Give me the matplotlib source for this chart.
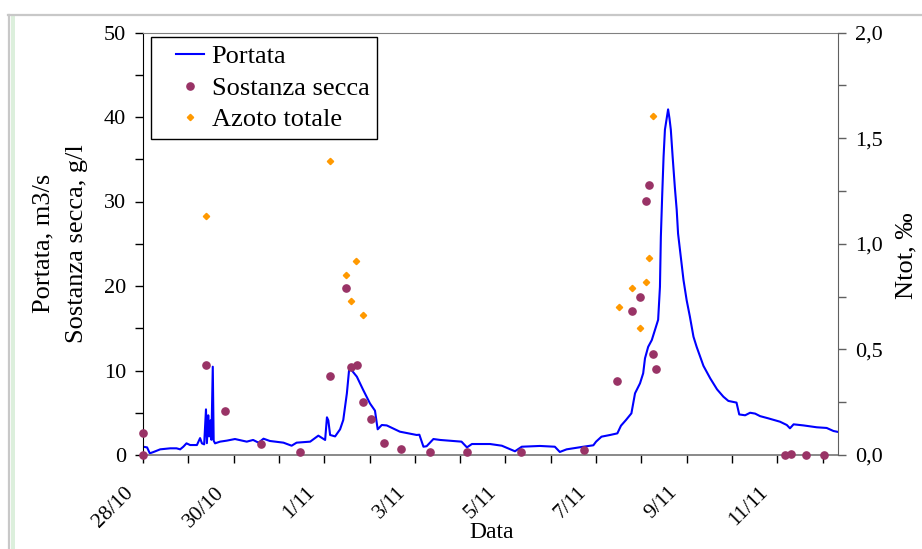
import matplotlib
matplotlib.use("Agg")
import matplotlib.pyplot as plt
import matplotlib.transforms as mtransforms
from matplotlib.ticker import MultipleLocator
from matplotlib.legend_handler import HandlerLine2D
from matplotlib.lines import Line2D
from matplotlib.patches import Rectangle

plt.rcParams['font.family'] = ['Liberation Serif', 'DejaVu Serif']

# --- dati (giorni dal 28/10 ore 0) ---
portata_giorni = [
    0.00, 0.09, 0.15, 0.23, 0.38, 0.60, 0.74, 0.82, 0.89, 0.96, 1.04, 1.19,
    1.26, 1.30, 1.35, 1.39, 1.41, 1.44, 1.46, 1.49, 1.51, 1.54, 1.56, 1.59,
    1.70, 1.85, 2.03, 2.29, 2.43, 2.55, 2.66, 2.80, 3.10, 3.28, 3.39, 3.69,
    3.87, 4.02, 4.06, 4.09, 4.13, 4.24, 4.35, 4.42, 4.50, 4.55, 4.61, 4.72,
    4.86, 5.01, 5.12, 5.18, 5.27, 5.38, 5.67, 6.04, 6.10, 6.19, 6.26, 6.41,
    6.56, 7.03, 7.15, 7.26, 7.66, 7.92, 8.21, 8.36, 8.76, 9.09, 9.20, 9.35,
    9.72, 9.94, 10.00, 10.12, 10.31, 10.47, 10.55, 10.66, 10.78, 10.86,
    10.97, 11.04, 11.08, 11.15, 11.23, 11.30, 11.37, 11.41, 11.43, 11.46,
    11.49, 11.52, 11.56, 11.59, 11.62, 11.65, 11.69, 11.74, 11.78, 11.81,
    11.87, 11.93, 12.00, 12.07, 12.15, 12.22, 12.37, 12.52, 12.67, 12.81,
    12.92, 13.10, 13.16, 13.29, 13.40, 13.51, 13.62, 13.80, 14.06, 14.21,
    14.28, 14.36, 14.58, 14.87, 15.09, 15.24, 15.35,
]
portata = [
    0.98, 0.90, 0.20, 0.35, 0.67, 0.79, 0.79, 0.67, 0.98, 1.38, 1.18, 1.18,
    2.00, 1.38, 1.26, 5.40, 1.40, 4.70, 2.20, 4.10, 1.80, 10.45, 1.70, 1.38,
    1.58, 1.70, 1.89, 1.58, 1.78, 1.46, 1.93, 1.66, 1.46, 1.10, 1.46, 1.58,
    2.29, 1.78, 4.46, 4.10, 2.37, 2.20, 3.04, 4.14, 7.30, 10.14, 10.00, 9.27,
    7.70, 6.10, 5.25, 3.04, 3.55, 3.50, 2.76, 2.37, 2.40, 0.98, 1.04, 1.89,
    1.78, 1.58, 0.90, 1.30, 1.30, 1.10, 0.44, 0.98, 1.07, 0.98, 0.36, 0.67,
    0.98, 1.15, 1.58, 2.17, 2.37, 2.56, 3.47, 4.14, 4.93, 7.30,
    8.48, 9.67, 11.44, 12.80, 13.60, 14.80, 16.00, 19.90, 25.80, 30.80,
    35.30, 38.50, 39.85, 40.90, 39.85, 38.50, 35.30, 31.60, 29.00, 26.20,
    23.50, 20.70, 18.30, 16.40, 14.00, 12.80, 10.55, 9.07, 7.77, 6.90,
    6.40, 6.20, 4.80, 4.70, 5.00, 4.90, 4.60, 4.34, 3.94, 3.55,
    3.16, 3.63, 3.50, 3.28, 3.20, 2.84, 2.72,
]

ss_giorni = [0.00, 0.00, 1.39, 1.82, 2.60, 3.47, 4.12, 4.48, 4.60, 4.72, 4.86,
             5.03, 5.33, 5.70, 6.34, 7.15, 8.34, 9.74, 10.47, 10.80, 10.97,
             11.10, 11.16, 11.26, 11.33, 14.16, 14.31, 14.64, 15.02]
ss_valori = [2.64, 0.00, 10.65, 5.20, 1.34, 0.30, 9.40, 19.80, 10.40, 10.65, 6.30,
             4.30, 1.42, 0.75, 0.40, 0.30, 0.30, 0.55, 8.70, 17.08, 18.66,
             30.06, 32.00, 11.95, 10.18, 0.00, 0.10, 0.00, 0.00]

n_giorni = [1.39, 4.12, 4.48, 4.60, 4.71, 4.86, 10.51, 10.80, 10.97, 11.10, 11.16, 11.26]
n_valori = [1.133, 1.390, 0.851, 0.729, 0.920, 0.661, 0.702, 0.792, 0.603, 0.819, 0.934, 1.605]

giorni_tick = list(range(0, 16))
etichette_tick = ["28/10", "", "30/10", "", "1/11", "", "3/11", "", "5/11", "",
                  "7/11", "", "9/11", "", "11/11", ""]
n_tick = [0.0, 0.5, 1.0, 1.5, 2.0]
n_etichette = ["0,0", "0,5", "1,0", "1,5", "2,0"]

fig = plt.figure(figsize=(9.22, 5.49), dpi=100)

# cornice della schermata
fig.add_artist(Line2D([8 / 922, 1], [1 - 14.5 / 549] * 2, transform=fig.transFigure,
                      color='#c8c8c8', lw=1.6))
fig.add_artist(Line2D([9 / 922] * 2, [0, 1 - 14.5 / 549], transform=fig.transFigure,
                      color='#c8c8c8', lw=1.6))
fig.add_artist(Rectangle((10.5 / 922, 0), 4.5 / 922, 1 - 15.5 / 549, transform=fig.transFigure,
                         facecolor='#dcefdc', edgecolor='none'))

ax = fig.add_axes([143 / 922, 1 - 455 / 549, 695 / 922, 422.5 / 549])
linea, = ax.plot(portata_giorni, portata, color='#0000ff', lw=1.5, zorder=2)
punti_ss, = ax.plot(ss_giorni, ss_valori, ls='none', marker='o', ms=5.2,
                    color='#993366', zorder=3, clip_on=False)
ax.set_xlim(0, 15.34)
ax.set_ylim(0, 50)
ax.set_yticks([0, 10, 20, 30, 40, 50])
ax.yaxis.set_minor_locator(MultipleLocator(5))
ax.set_xticks(giorni_tick)
ax.set_xticklabels(etichette_tick)

ax.tick_params(axis='y', which='both', direction='out', length=6, width=1,
               color='black', labelsize=16, pad=6)
ax.tick_params(axis='x', direction='out', length=6, width=1, color='black',
               labelsize=15.5, pad=19)
offset = mtransforms.ScaledTranslation(-0.12, 0, fig.dpi_scale_trans)
for lab in ax.get_xticklabels():
    lab.set_rotation(45)
    lab.set_ha('right')
    lab.set_va('center')
    lab.set_rotation_mode('anchor')
    lab.set_transform(lab.get_transform() + offset)

ax.spines['left'].set_color('black')
ax.spines['top'].set_color('#808080')
ax.spines['bottom'].set_color('#808080')
ax.spines['bottom'].set_linewidth(1.3)
ax.spines['right'].set_visible(False)

ax.set_ylabel("Portata, m3/s\nSostanza secca, g/l", fontsize=19, linespacing=1.7)
ax.yaxis.set_label_coords(-0.079, 0.5)
ax.set_xlabel("Data", fontsize=17)
ax.xaxis.set_label_coords(0.502, -0.158)

ax2 = ax.twinx()
punti_n, = ax2.plot(n_giorni, n_valori, ls='none', marker='D', ms=3.2,
                    color='#ff9900', zorder=3)
ax2.set_ylim(0, 2)
ax2.set_yticks(n_tick)
ax2.set_yticklabels(n_etichette)
ax2.yaxis.set_minor_locator(MultipleLocator(0.25))
ax2.tick_params(axis='y', which='both', direction='out', length=5.5, width=1,
                color='#606060', labelsize=16, pad=7)
for s in ['left', 'top', 'bottom']:
    ax2.spines[s].set_visible(False)
ax2.spines['right'].set_color('#606060')
ax2.set_ylabel("Ntot, \u2030", fontsize=19)
ax2.yaxis.set_label_coords(1.082, 0.471)

leg = ax2.legend([linea, punti_ss, punti_n], ["Portata", "Sostanza secca", "Azoto totale"],
                 loc='upper left', bbox_to_anchor=(8 / 695, 1 - 4.5 / 422.5),
                 borderaxespad=0, fancybox=False, edgecolor='black', framealpha=1,
                 fontsize=19, borderpad=0.3, handlelength=1.7, handletextpad=0.3,
                 labelspacing=0.3,
                 handler_map={Line2D: HandlerLine2D(xpad=0.65)})
leg.get_frame().set_linewidth(1.0)

fig.savefig("out.png", dpi=100)
